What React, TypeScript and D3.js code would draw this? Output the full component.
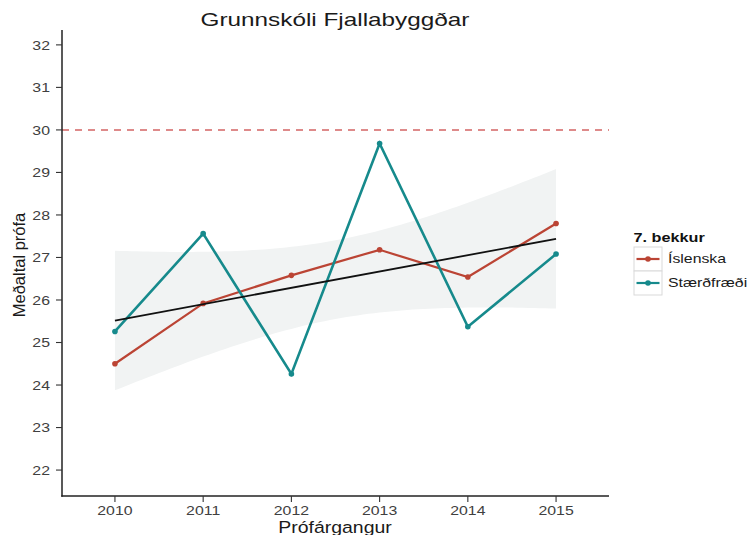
import { scaleLinear, line, area, range } from "d3";

const years = [2010, 2011, 2012, 2013, 2014, 2015];
const islenska = [24.5, 25.92, 26.58, 27.18, 26.54, 27.8];
const staerdfraedi = [25.26, 27.56, 24.26, 29.68, 25.37, 27.08];
const seriesNames = ["Íslenska", "Stærðfræði"];
const seriesColors = ["#bb4434", "#168a8c"];
const yTicks = [22, 23, 24, 25, 26, 27, 28, 29, 30, 31, 32];
const referenceLevel = 30;
const tCrit = 2.228; // t quantile, 95%, df = 10

const width = 751;
const height = 535;
const font = '"Liberation Sans", Arial, Helvetica, sans-serif';

const x = scaleLinear().domain([2009.4, 2015.6]).range([62, 609]);
const y = scaleLinear().domain([21.39, 32.35]).range([496, 30]);

// pooled linear fit (geom_smooth method = "lm")
const pts = [
  ...years.map((yr, i) => ({ yr, v: islenska[i] })),
  ...years.map((yr, i) => ({ yr, v: staerdfraedi[i] })),
];
const n = pts.length;
const mx = pts.reduce((s, p) => s + p.yr, 0) / n;
const my = pts.reduce((s, p) => s + p.v, 0) / n;
const sxx = pts.reduce((s, p) => s + (p.yr - mx) ** 2, 0);
const slope = pts.reduce((s, p) => s + (p.yr - mx) * (p.v - my), 0) / sxx;
const icpt = my - slope * mx;
const fit = (yr: number) => icpt + slope * yr;
const sigma = Math.sqrt(
  pts.reduce((s, p) => s + (p.v - fit(p.yr)) ** 2, 0) / (n - 2),
);
const band = range(0, 81).map((k) => {
  const yr = 2010 + (k / 80) * 5;
  const se = sigma * Math.sqrt(1 / n + (yr - mx) ** 2 / sxx);
  return { yr, lo: fit(yr) - tCrit * se, hi: fit(yr) + tCrit * se };
});

function SText(props: any) {
  const { x: tx, y: ty, sx = 1.28, children, ...rest } = props;
  return (
    <text transform={`translate(${tx},${ty}) scale(${sx},1)`} {...rest}>
      {children}
    </text>
  );
}

function App() {
  const lineGen = line<number>()
    .x((_, i) => x(years[i]))
    .y((d) => y(d));
  const bandGen = area<{ yr: number; lo: number; hi: number }>()
    .x((d) => x(d.yr))
    .y0((d) => y(d.lo))
    .y1((d) => y(d.hi));
  const series = [islenska, staerdfraedi];

  return (
    <svg
      width={width}
      height={height}
      style={{ position: "absolute", left: 0, top: 0, background: "#fff" }}
      fontFamily={font}
    >
      <SText x={335} y={26} fontSize={19} textAnchor="middle" fill="#1a1a1a">
        Grunnskóli Fjallabyggðar
      </SText>

      <path d={bandGen(band) ?? ""} fill="#f1f3f3" />

      <line
        x1={62}
        x2={609}
        y1={y(referenceLevel)}
        y2={y(referenceLevel)}
        stroke="#d46464"
        strokeWidth={1.5}
        strokeDasharray="7 6"
      />

      {series.map((s, si) => (
        <g key={si}>
          <path
            d={lineGen(s) ?? ""}
            fill="none"
            stroke={seriesColors[si]}
            strokeWidth={si === 1 ? 2.6 : 2.2}
          />
          {s.map((v, i) => (
            <circle
              key={i}
              cx={x(years[i])}
              cy={y(v)}
              r={2.8}
              fill={seriesColors[si]}
            />
          ))}
        </g>
      ))}

      <line
        x1={x(2010)}
        x2={x(2015)}
        y1={y(fit(2010))}
        y2={y(fit(2015))}
        stroke="#111"
        strokeWidth={1.8}
      />

      {/* axes */}
      <line x1={62} x2={62} y1={30} y2={496.7} stroke="#222" strokeWidth={1.5} />
      <line x1={61.3} x2={609} y1={496} y2={496} stroke="#222" strokeWidth={1.5} />
      {yTicks.map((t) => (
        <g key={t}>
          <line x1={56} x2={62} y1={y(t)} y2={y(t)} stroke="#333" strokeWidth={1.1} />
          <SText
            x={50}
            y={y(t)}
            dy="0.36em"
            fontSize={13}
            sx={1.22}
            textAnchor="end"
            fill="#404040"
          >
            {t}
          </SText>
        </g>
      ))}
      {years.map((yr) => (
        <g key={yr}>
          <line x1={x(yr)} x2={x(yr)} y1={496} y2={502} stroke="#333" strokeWidth={1.1} />
          <SText
            x={x(yr)}
            y={515}
            fontSize={13}
            sx={1.22}
            textAnchor="middle"
            fill="#404040"
          >
            {yr}
          </SText>
        </g>
      ))}
      <SText x={335} y={532.5} fontSize={16.5} sx={1.18} textAnchor="middle" fill="#1a1a1a">
        Prófárgangur
      </SText>
      <text
        transform="translate(24.5,265) rotate(-90)"
        fontSize={16.5}
        textAnchor="middle"
        fill="#1a1a1a"
      >
        Meðaltal prófa
      </text>

      {/* legend */}
      <SText x={633.5} y={242} fontSize={12.5} sx={1.3} fontWeight={700} fill="#111">
        7. bekkur
      </SText>
      {seriesNames.map((name, i) => {
        const top = 247 + i * 24;
        return (
          <g key={name}>
            <rect
              x={634}
              y={top}
              width={28}
              height={24}
              fill="#fff"
              stroke="#d9d9d9"
              strokeWidth={1}
            />
            <line
              x1={636.5}
              x2={659.5}
              y1={top + 12}
              y2={top + 12}
              stroke={seriesColors[i]}
              strokeWidth={2.2}
            />
            <circle cx={648} cy={top + 12} r={2.8} fill={seriesColors[i]} />
            <SText
              x={668}
              y={top + 12}
              dy="0.36em"
              fontSize={12}
              sx={1.32}
              fill="#1a1a1a"
            >
              {name}
            </SText>
          </g>
        );
      })}
    </svg>
  );
}

export default App;
